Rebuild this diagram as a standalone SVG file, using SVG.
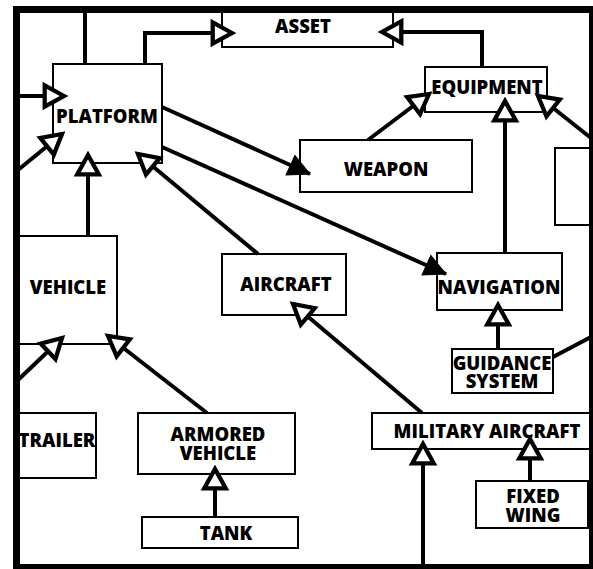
<svg xmlns="http://www.w3.org/2000/svg" width="593" height="569" viewBox="0 0 593 569">
<style>
.box{fill:#fff;stroke:#000;stroke-width:2}
.t{font-family:"Open Sans","DejaVu Sans",sans-serif;font-weight:800;font-size:18.5px;text-anchor:middle;fill:#000}
.c{fill:none;stroke:#000;stroke-width:4}
.h{marker-end:url(#hollow)}
.f{marker-end:url(#filled)}
</style>
<defs>
<marker id="hollow" markerUnits="userSpaceOnUse" markerWidth="30" markerHeight="30" viewBox="-24 -14 28 28" refX="0" refY="0" orient="auto">
<path d="M0,0 L-18,-10 L-18,10 Z" fill="#fff" stroke="#000" stroke-width="4" stroke-linejoin="miter"/>
</marker>
<marker id="filled" markerUnits="userSpaceOnUse" markerWidth="30" markerHeight="30" viewBox="-24 -14 28 28" refX="0" refY="0" orient="auto">
<path d="M0,0 L-20,-10 L-20,10 Z" fill="#000" stroke="#000" stroke-width="1"/>
</marker>
</defs>
<rect width="593" height="569" fill="#fff"/>

<g id="asset"><rect class="box" x="222" y="8" width="171" height="39"/><text class="t" x="303" y="33">ASSET</text></g>
<g id="platform"><rect class="box" x="53" y="64" width="109" height="99"/><text class="t" x="107" y="123">PLATFORM</text></g>
<g id="equipment"><rect class="box" x="425" y="67" width="122" height="45"/><text class="t" x="487" y="94">EQUIPMENT</text></g>
<g id="weapon"><rect class="box" x="300" y="140" width="172" height="52"/><text class="t" x="386" y="176">WEAPON</text></g>
<g id="partial"><rect class="box" x="555" y="148" width="50" height="77"/></g>
<g id="vehicle"><rect class="box" x="16" y="236" width="101" height="108"/><text class="t" x="68" y="294">VEHICLE</text></g>
<g id="aircraft"><rect class="box" x="222" y="254" width="124" height="61"/><text class="t" x="286" y="291">AIRCRAFT</text></g>
<g id="navigation"><rect class="box" x="437" y="253" width="125" height="57"/><text class="t" x="499" y="294">NAVIGATION</text></g>
<g id="guidance"><rect class="box" x="452" y="349" width="101" height="44"/><text class="t" x="502" y="370">GUIDANCE</text><text class="t" x="502" y="388">SYSTEM</text></g>
<g id="trailer"><rect class="box" x="16" y="413" width="80" height="65"/><text class="t" x="57" y="447">TRAILER</text></g>
<g id="armored"><rect class="box" x="138" y="413" width="157" height="61"/><text class="t" x="218" y="441">ARMORED</text><text class="t" x="218" y="460">VEHICLE</text></g>
<g id="tank"><rect class="box" x="142" y="517" width="156" height="31"/><text class="t" x="226" y="540">TANK</text></g>
<g id="military"><rect class="box" x="372" y="413" width="230" height="36"/><text class="t" x="487" y="438">MILITARY AIRCRAFT</text></g>
<g id="fixedwing"><rect class="box" x="476" y="481" width="112" height="47"/><text class="t" x="533" y="503">FIXED</text><text class="t" x="533" y="522">WING</text></g>

<g id="connectors">
<path class="c" d="M85,10 V64"/>
<path class="c h" d="M145,64 V33 H232"/>
<path class="c h" d="M482,67 V32 H382"/>
<path class="c h" d="M18,96 H64"/>
<path class="c h" d="M18,170 L62,134"/>
<path class="c h" d="M88,236 V155"/>
<path class="c h" d="M258,254 L138,154"/>
<path class="c f" d="M162,107 L310,174"/>
<path class="c f" d="M162,147 L446,274"/>
<path class="c h" d="M368,140 L429,94"/>
<path class="c h" d="M505,253 V101"/>
<path class="c h" d="M591,138 L538,96"/>
<path class="c h" d="M498,349 V305"/>
<path class="c" d="M553,357 L591,337"/>
<path class="c h" d="M18,380 L62,338"/>
<path class="c h" d="M207,413 L108,336"/>
<path class="c h" d="M215,517 V469"/>
<path class="c h" d="M422,413 L293,304"/>
<path class="c h" d="M423,566 V444"/>
<path class="c h" d="M530,481 V439"/>
</g>

<rect x="16.5" y="9.5" width="576" height="558" fill="none" stroke="#000" stroke-width="7"/>
</svg>
